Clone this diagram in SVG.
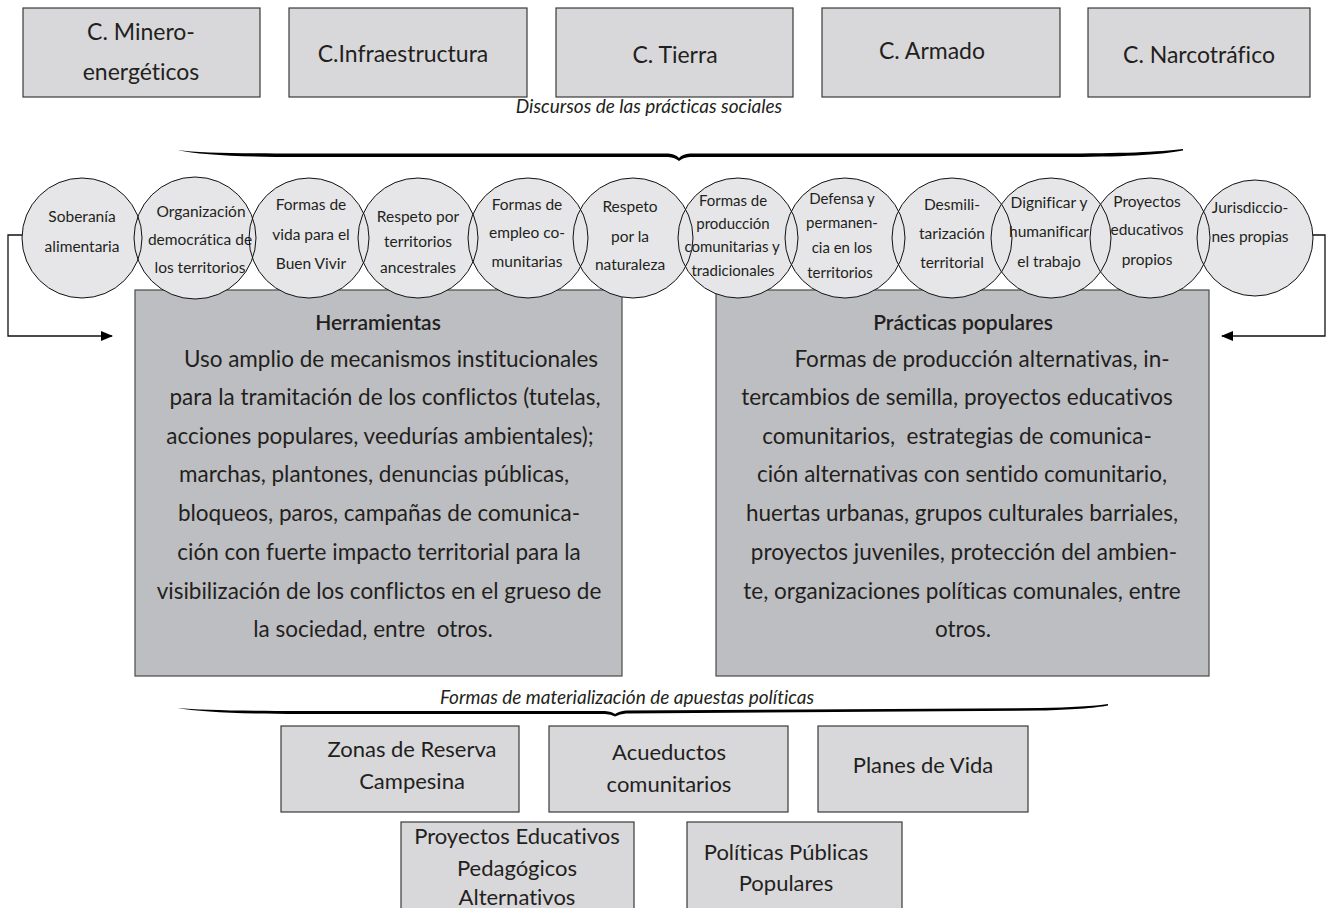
<svg xmlns="http://www.w3.org/2000/svg" width="1327" height="908" viewBox="0 0 1327 908">
<style>
text{font-family:Lato,"Open Sans","Liberation Sans",sans-serif;fill:#231f20;text-anchor:middle;font-weight:400;font-variant-ligatures:none}
.box{fill:#d8d8da;stroke:#3a3a3a;stroke-width:1.2}
.big{fill:#bdbec1;stroke:#4a4a4a;stroke-width:1.2}
.disc{fill:#e6e6e8}
.ring{fill:none;stroke:#111;stroke-width:1}
.t23{font-size:23px}
.t22{font-size:22px}
.tb{font-size:22.5px}
.c15{font-size:15.5px}
.c14{font-size:15px}
.cap{font-size:19px;font-style:italic}
.hd{font-size:21px;font-weight:600}
.conn{fill:none;stroke:#111;stroke-width:1.3}
.brace{fill:#000}
</style>
<defs>
<marker id="ah" markerWidth="12" markerHeight="10" refX="11" refY="5" orient="auto" markerUnits="userSpaceOnUse">
<path d="M0,0 L12,5 L0,10 Z" fill="#000"/>
</marker>
</defs>

<g id="top-boxes">
<g id="n-minero"><rect class="box" x="23" y="8" width="237" height="89"/><text class="t23" x="141" y="40">C. Minero-</text><text class="t23" x="141" y="80">energéticos</text></g>
<g id="n-infra"><rect class="box" x="289" y="8" width="238" height="89"/><text class="t23" x="403" y="62">C.Infraestructura</text></g>
<g id="n-tierra"><rect class="box" x="556" y="8" width="237" height="89"/><text class="t23" x="675" y="63">C. Tierra</text></g>
<g id="n-armado"><rect class="box" x="822" y="8" width="238" height="89"/><text class="t23" x="932" y="59">C. Armado</text></g>
<g id="n-narco"><rect class="box" x="1088" y="8" width="222" height="89"/><text class="t23" x="1199" y="63">C. Narcotráfico</text></g>
</g>

<text class="cap" x="649" y="113">Discursos de las prácticas sociales</text>
<path class="brace" d="M177,150 C200,153 240,153.5 300,153.5 L668,153.5 Q676,154 679,158 Q682,154 690,153.5 L1060,153.5 C1120,153.5 1160,152 1183,149 L1183,150.5 C1160,155 1120,157 1060,157 L690,157 Q683,157.5 679,161 Q675,157.5 668,157 L300,157 C240,157 200,155 177,150 Z"/>

<g id="n-herramientas">
<rect class="big" x="135" y="290" width="487" height="386"/>
<text class="hd" x="378" y="330">Herramientas</text>
<text class="tb" x="391" y="367">Uso amplio de mecanismos institucionales</text>
<text class="tb" x="385" y="405">para la tramitación de los conflictos (tutelas,</text>
<text class="tb" x="380" y="444">acciones populares, veedurías ambientales);</text>
<text class="tb" x="374" y="482">marchas, plantones, denuncias públicas,</text>
<text class="tb" x="379" y="521">bloqueos, paros, campañas de comunica-</text>
<text class="tb" x="379" y="560">ción con fuerte impacto territorial para la</text>
<text class="tb" x="379" y="599">visibilización de los conflictos en el grueso de</text>
<text class="tb" x="373" y="637" xml:space="preserve">la sociedad, entre  otros.</text>
</g>

<g id="n-practicas">
<rect class="big" x="716" y="290" width="493" height="386"/>
<text class="hd" x="963" y="330">Prácticas populares</text>
<text class="tb" x="982" y="367">Formas de producción alternativas, in-</text>
<text class="tb" x="957" y="405">tercambios de semilla, proyectos educativos</text>
<text class="tb" x="957" y="444" xml:space="preserve">comunitarios,  estrategias de comunica-</text>
<text class="tb" x="962" y="482">ción alternativas con sentido comunitario,</text>
<text class="tb" x="962" y="521">huertas urbanas, grupos culturales barriales,</text>
<text class="tb" x="964" y="560">proyectos juveniles, protección del ambien-</text>
<text class="tb" x="962" y="599">te, organizaciones políticas comunales, entre</text>
<text class="tb" x="963" y="637">otros.</text>
</g>

<g id="circle-fills">
<circle class="disc" cx="82" cy="238" r="60"/>
<circle class="disc" cx="195" cy="238" r="61"/>
<circle class="disc" cx="309" cy="238" r="60"/>
<circle class="disc" cx="418" cy="238" r="60"/>
<circle class="disc" cx="528" cy="238" r="60"/>
<circle class="disc" cx="633" cy="238" r="60"/>
<circle class="disc" cx="738" cy="238" r="60"/>
<circle class="disc" cx="845" cy="238" r="60"/>
<circle class="disc" cx="952" cy="238" r="60"/>
<circle class="disc" cx="1051" cy="238" r="60"/>
<circle class="disc" cx="1150" cy="238" r="60"/>
<circle class="disc" cx="1255" cy="238" r="58"/>
</g>

<g id="circles">
<g id="c-soberania"><circle class="ring" cx="82" cy="238" r="60"/><text class="c15" x="82" y="222">Soberanía</text><text class="c15" x="82" y="252">alimentaria</text></g>
<g id="c-organizacion"><circle class="ring" cx="195" cy="238" r="61"/><text class="c15" x="201" y="217">Organización</text><text class="c15" x="200" y="245">democrática de</text><text class="c15" x="200" y="273">los territorios</text></g>
<g id="c-buenvivir"><circle class="ring" cx="309" cy="238" r="60"/><text class="c15" x="311" y="210">Formas de</text><text class="c15" x="311" y="240">vida para el</text><text class="c15" x="311" y="269">Buen Vivir</text></g>
<g id="c-ancestrales"><circle class="ring" cx="418" cy="238" r="60"/><text class="c15" x="418" y="222">Respeto por</text><text class="c15" x="418" y="247">territorios</text><text class="c15" x="418" y="273">ancestrales</text></g>
<g id="c-empleo"><circle class="ring" cx="528" cy="238" r="60"/><text class="c15" x="527" y="210">Formas de</text><text class="c15" x="527" y="238">empleo co-</text><text class="c15" x="527" y="267">munitarias</text></g>
<g id="c-naturaleza"><circle class="ring" cx="633" cy="238" r="60"/><text class="c15" x="630" y="212">Respeto</text><text class="c15" x="630" y="242">por la</text><text class="c15" x="630" y="270">naturaleza</text></g>
<g id="c-produccion"><circle class="ring" cx="738" cy="238" r="60"/><text class="c14" x="733" y="206">Formas de</text><text class="c14" x="733" y="229">producción</text><text class="c14" x="732" y="252">comunitarias y</text><text class="c14" x="733" y="276">tradicionales</text></g>
<g id="c-defensa"><circle class="ring" cx="845" cy="238" r="60"/><text class="c14" x="842" y="204">Defensa y</text><text class="c14" x="842" y="228">permanen-</text><text class="c14" x="842" y="253">cia en los</text><text class="c14" x="840" y="278">territorios</text></g>
<g id="c-desmil"><circle class="ring" cx="952" cy="238" r="60"/><text class="c15" x="952" y="210">Desmili-</text><text class="c15" x="952" y="239">tarización</text><text class="c15" x="952" y="268">territorial</text></g>
<g id="c-dignificar"><circle class="ring" cx="1051" cy="238" r="60"/><text class="c15" x="1049" y="208">Dignificar y</text><text class="c15" x="1049" y="237">humanificar</text><text class="c15" x="1049" y="267">el trabajo</text></g>
<g id="c-proyectos"><circle class="ring" cx="1150" cy="238" r="60"/><text class="c15" x="1147" y="207">Proyectos</text><text class="c15" x="1147" y="235">educativos</text><text class="c15" x="1147" y="265">propios</text></g>
<g id="c-jurisdicciones"><circle class="ring" cx="1255" cy="238" r="58"/><text class="c15" x="1250" y="213">Jurisdiccio-</text><text class="c15" x="1250" y="242">nes propias</text></g>
</g>

<g id="connectors">
<path class="conn" d="M22,235 H8 V336 H112" marker-end="url(#ah)"/>
<path class="conn" d="M1313,235 H1325 V336 H1222" marker-end="url(#ah)"/>
</g>

<text class="cap" x="627" y="704">Formas de materialización de apuestas políticas</text>
<path class="brace" d="M177,708 C200,710 240,711 300,711 L605,711 Q612,711.5 615,714 Q619,711 626,710.5 L1040,708 C1070,707.5 1095,706 1108,704 L1108,705.5 C1095,708 1070,710 1040,710.5 L626,713.5 Q620,714 615,716.5 Q611,714 605,714 L300,714 C240,714 200,712 177,708 Z"/>

<g id="bottom-boxes">
<g id="n-zonas"><rect class="box" x="281" y="726" width="238" height="86"/><text class="t22" x="412" y="757">Zonas de Reserva</text><text class="t22" x="412" y="789">Campesina</text></g>
<g id="n-acueductos"><rect class="box" x="549" y="726" width="239" height="86"/><text class="t22" x="669" y="760">Acueductos</text><text class="t22" x="669" y="792">comunitarios</text></g>
<g id="n-planes"><rect class="box" x="818" y="726" width="210" height="86"/><text class="t22" x="923" y="773">Planes de Vida</text></g>
<g id="n-pepa"><rect class="box" x="401" y="822" width="233" height="100"/><text class="t22" x="517" y="844">Proyectos Educativos</text><text class="t22" x="517" y="876">Pedagógicos</text><text class="t22" x="517" y="905">Alternativos</text></g>
<g id="n-politicas"><rect class="box" x="687" y="822" width="215" height="100"/><text class="t22" x="786" y="860">Políticas Públicas</text><text class="t22" x="786" y="891">Populares</text></g>
</g>
</svg>
